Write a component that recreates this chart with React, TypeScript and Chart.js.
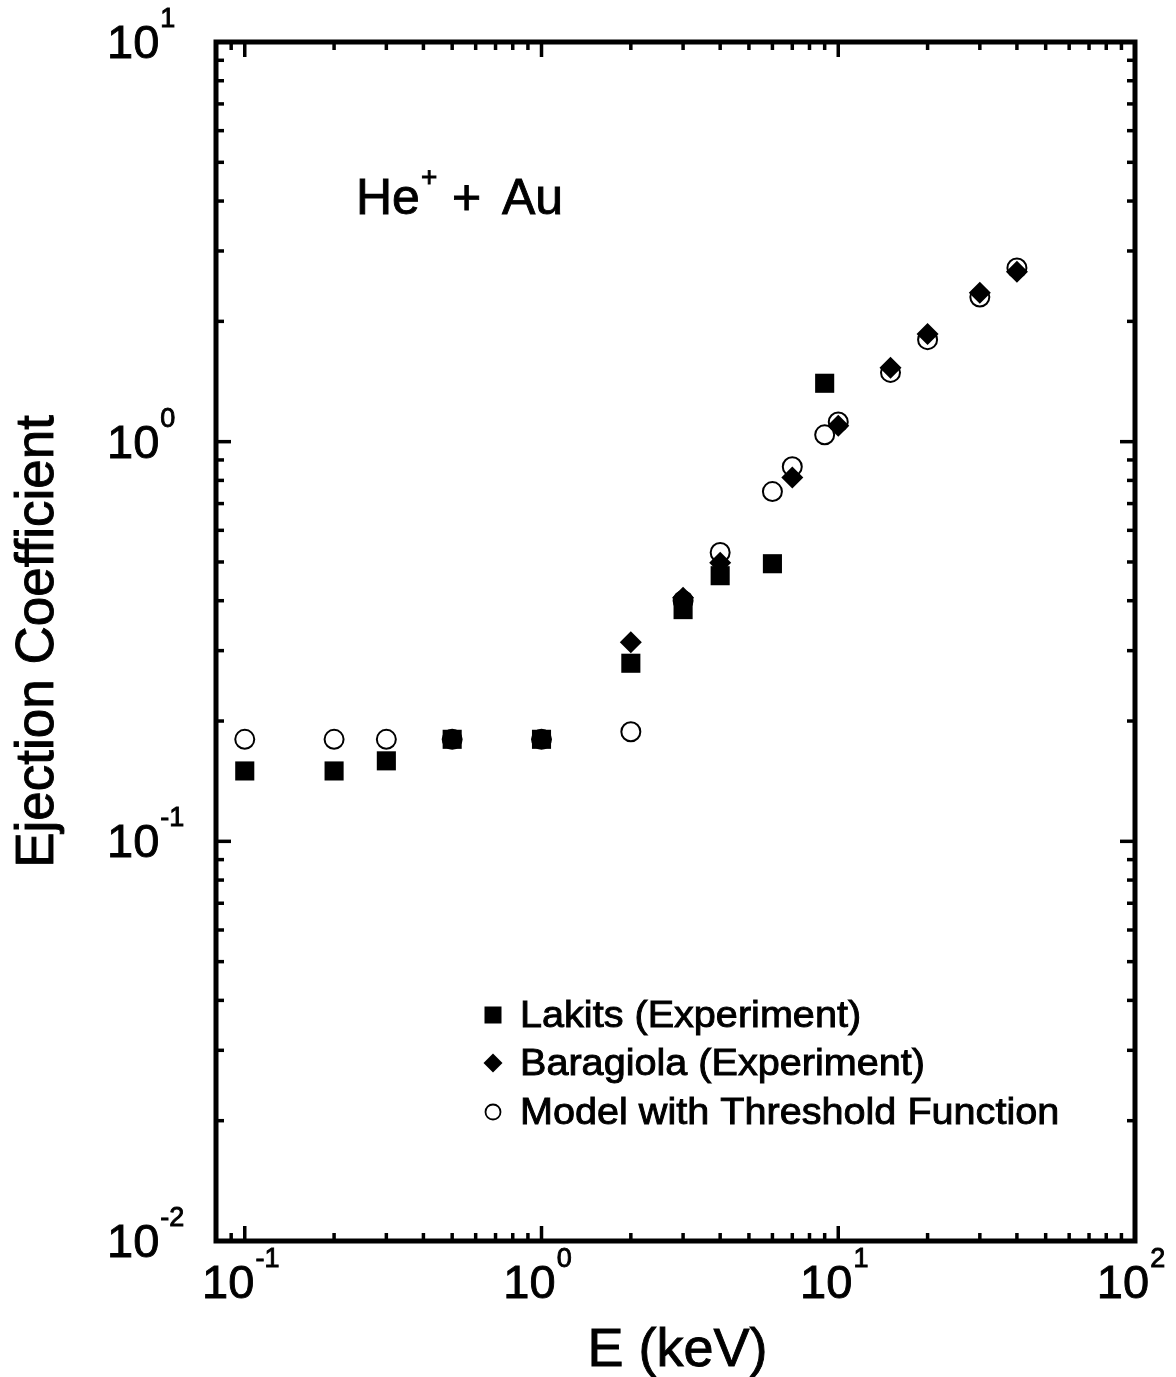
import React, { useEffect, useRef } from "react";
import { Chart, registerables } from "chart.js";

Chart.register(...registerables);

const FONT = '"Liberation Sans", Arial, Helvetica, sans-serif';

// ---- data (energy in keV, ejection coefficient) ----
const lakitsEnergy = [0.1, 0.2, 0.3, 0.5, 1, 2, 3, 4, 6, 9];
const lakitsCoeff = [0.15, 0.15, 0.159, 0.18, 0.18, 0.279, 0.38, 0.462, 0.495, 1.4];

const baragiolaEnergy = [2, 3, 4, 7, 10, 15, 20, 30, 40];
const baragiolaCoeff = [0.315, 0.407, 0.498, 0.813, 1.096, 1.53, 1.86, 2.36, 2.66];

const modelEnergy = [0.1, 0.2, 0.3, 0.5, 1, 2, 3, 4, 6, 7, 9, 10, 15, 20, 30, 40];
const modelCoeff = [0.18, 0.18, 0.18, 0.18, 0.18, 0.188, 0.4, 0.528, 0.75, 0.866, 1.04, 1.12, 1.49, 1.8, 2.3, 2.72];

const seriesNames = ["Lakits (Experiment)", "Baragiola (Experiment)", "Model with Threshold Function"];
const xTickExponents = [-1, 0, 1, 2];
const yTickExponents = [-2, -1, 0, 1];
const xTitle = "E (keV)";
const yTitle = "Ejection Coefficient";
const annotationMain = "He";
const annotationSup = "+";
const annotationRest = ["+", "Au"];

const X_MIN = 0.08;
const X_MAX = 100;
const Y_MIN = 0.01;
const Y_MAX = 10;

const W = 1176;
const H = 1377;
const TEXT_STROKE = 0.9;

function toPoints(xs: number[], ys: number[]) {
  return xs.map((x, i) => ({ x, y: ys[i] }));
}

function setFont(ctx: CanvasRenderingContext2D, size: number) {
  ctx.font = `${size}px ${FONT}`;
}

function txt(ctx: CanvasRenderingContext2D, s: string, x: number, y: number) {
  ctx.fillText(s, x, y);
  ctx.lineWidth = TEXT_STROKE;
  ctx.strokeText(s, x, y);
}

function powerLabel(
  ctx: CanvasRenderingContext2D,
  exp: number,
  x: number,
  baseY: number,
  align: "left" | "center"
) {
  const main = "10";
  const sup = exp < 0 ? "-" + Math.abs(exp) : String(exp);
  const mainSize = 47;
  const supSize = 27;
  setFont(ctx, mainSize);
  const w1 = ctx.measureText(main).width;
  setFont(ctx, supSize);
  const w2 = ctx.measureText(sup).width;
  const gap = 1;
  const total = w1 + gap + w2;
  const x0 = align === "center" ? x - total / 2 - 4 : x;
  ctx.textAlign = "left";
  ctx.textBaseline = "alphabetic";
  setFont(ctx, mainSize);
  txt(ctx, main, x0, baseY);
  setFont(ctx, supSize);
  txt(ctx, sup, x0 + w1 + gap, baseY - 31);
}

function drawMarker(ctx: CanvasRenderingContext2D, style: string, x: number, y: number, r: number) {
  ctx.beginPath();
  if (style === "rect") {
    ctx.rect(x - r, y - r, 2 * r, 2 * r);
    ctx.fill();
  } else if (style === "rectRot") {
    ctx.moveTo(x - r, y);
    ctx.lineTo(x, y - r);
    ctx.lineTo(x + r, y);
    ctx.lineTo(x, y + r);
    ctx.closePath();
    ctx.fill();
  } else {
    ctx.lineWidth = 1.8;
    ctx.arc(x, y, r, 0, Math.PI * 2);
    ctx.stroke();
  }
}

const decorPlugin = {
  id: "decor",
  afterDraw(chart: any) {
    const ctx: CanvasRenderingContext2D = chart.ctx;
    const { left, right, top, bottom } = chart.chartArea;
    const xs = chart.scales.x;
    const ys = chart.scales.y;
    ctx.save();
    ctx.strokeStyle = "#000";
    ctx.fillStyle = "#000";
    ctx.lineCap = "butt";

    // frame
    ctx.lineWidth = 5;
    ctx.strokeRect(left, top, right - left, bottom - top);

    // inward ticks on all four sides
    const majorLen = 15;
    const minorLen = 8;
    ctx.lineWidth = 3.5;
    const seg = (x1: number, y1: number, x2: number, y2: number) => {
      ctx.beginPath();
      ctx.moveTo(x1, y1);
      ctx.lineTo(x2, y2);
      ctx.stroke();
    };
    for (let e = -3; e <= 2; e++) {
      for (let k = 1; k <= 9; k++) {
        const v = k * Math.pow(10, e);
        const len = k === 1 ? majorLen : minorLen;
        if (v > X_MIN * 1.001 && v < X_MAX * 0.999) {
          const px = xs.getPixelForValue(v);
          seg(px, bottom, px, bottom - len);
          seg(px, top, px, top + len);
        }
        if (v > Y_MIN * 1.001 && v < Y_MAX * 0.999) {
          const py = ys.getPixelForValue(v);
          seg(left, py, left + len, py);
          seg(right, py, right - len, py);
        }
      }
    }

    // tick labels
    xTickExponents.forEach((e) => {
      const px = xs.getPixelForValue(Math.pow(10, e));
      powerLabel(ctx, e, px, bottom + 57, "center");
    });
    yTickExponents.forEach((e) => {
      const py = ys.getPixelForValue(Math.pow(10, e));
      powerLabel(ctx, e, 107, py + 16, "left");
    });

    // axis titles
    setFont(ctx, 54);
    ctx.textAlign = "center";
    ctx.textBaseline = "alphabetic";
    txt(ctx, xTitle, (left + right) / 2 + 2, 1366);
    ctx.save();
    ctx.translate(53, (top + bottom) / 2);
    ctx.rotate(-Math.PI / 2);
    setFont(ctx, 53);
    txt(ctx, yTitle, 0, 0);
    ctx.restore();

    // annotation He+ + Au
    ctx.textAlign = "left";
    setFont(ctx, 50);
    txt(ctx, annotationMain, 356, 214);
    const wHe = ctx.measureText(annotationMain).width;
    setFont(ctx, 28);
    txt(ctx, annotationSup, 356 + wHe + 1, 186);
    setFont(ctx, 50);
    txt(ctx, annotationRest[0], 452, 214);
    txt(ctx, annotationRest[1], 502, 214);

    // legend
    const legendX = 493;
    const legendRows = [1015, 1063, 1112];
    const legendSizes = [8.5, 9.5, 7.5];
    chart.data.datasets.forEach((ds: any, i: number) => {
      const y = legendRows[i];
      drawMarker(ctx, ds.pointStyle, legendX, y, legendSizes[i]);
      ctx.save();
      ctx.translate(520, y + 12);
      ctx.scale(1.1, 1.03);
      setFont(ctx, 36);
      ctx.textAlign = "left";
      txt(ctx, ds.label, 0, 0);
      ctx.restore();
    });

    ctx.restore();
  },
};

export default function App() {
  const canvasRef = useRef<HTMLCanvasElement | null>(null);

  useEffect(() => {
    document.body.style.margin = "0";
    document.body.style.background = "#fff";
    const canvas = canvasRef.current;
    if (!canvas) return;
    const chart = new Chart(canvas, {
      type: "scatter",
      data: {
        datasets: [
          {
            label: seriesNames[0],
            data: toPoints(lakitsEnergy, lakitsCoeff),
            pointStyle: "rect",
            pointRadius: 13.5,
            pointBackgroundColor: "#000",
            pointBorderColor: "#000",
            pointBorderWidth: 0,
            showLine: false,
          },
          {
            label: seriesNames[1],
            data: toPoints(baragiolaEnergy, baragiolaCoeff),
            pointStyle: "rectRot",
            pointRadius: 11,
            pointBackgroundColor: "#000",
            pointBorderColor: "#000",
            pointBorderWidth: 0,
            showLine: false,
          },
          {
            label: seriesNames[2],
            data: toPoints(modelEnergy, modelCoeff),
            pointStyle: "circle",
            pointRadius: 9.5,
            pointBackgroundColor: "rgba(0,0,0,0)",
            pointBorderColor: "#000",
            pointBorderWidth: 2,
            showLine: false,
          },
        ],
      },
      options: {
        responsive: false,
        animation: false,
        events: [],
        layout: {
          padding: { left: 216, top: 42, right: W - 1135, bottom: H - 1241 },
        },
        scales: {
          x: { type: "logarithmic", min: X_MIN, max: X_MAX, display: false },
          y: { type: "logarithmic", min: Y_MIN, max: Y_MAX, display: false },
        },
        plugins: {
          legend: { display: false },
          tooltip: { enabled: false },
          title: { display: false },
        },
      },
      plugins: [decorPlugin],
    });
    return () => chart.destroy();
  }, []);

  return (
    <div style={{ width: W, height: H, overflow: "hidden", background: "#fff" }}>
      <canvas ref={canvasRef} width={W} height={H} style={{ display: "block" }} />
    </div>
  );
}
